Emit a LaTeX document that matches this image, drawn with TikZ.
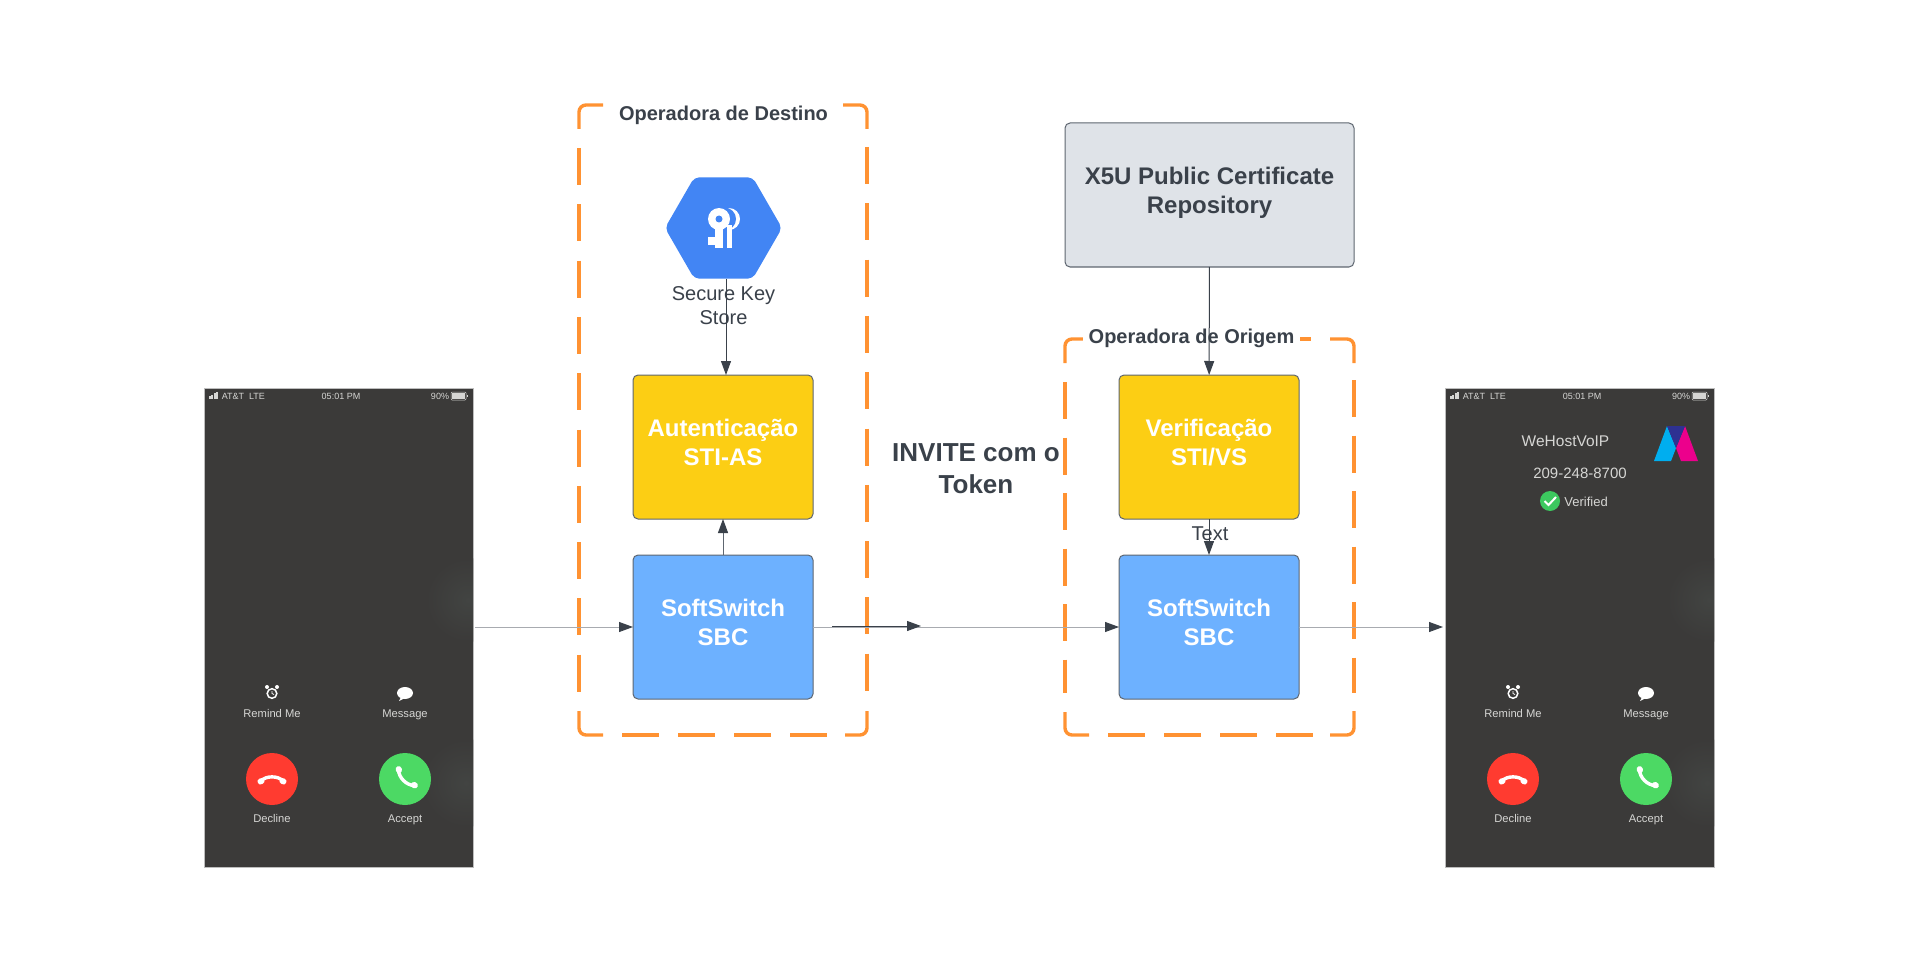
\documentclass[tikz,border=0pt]{standalone}
\usepackage{fontspec}
\setmainfont{Liberation Sans}
\usetikzlibrary{
  arrows.meta,
  positioning,
  shapes.geometric
}
\definecolor{ink}{HTML}{3A414A}
\definecolor{edge}{HTML}{5E6670}
\definecolor{faint}{HTML}{A8ABB0}
\definecolor{orangeline}{HTML}{FF9232}
\definecolor{yellowbox}{HTML}{FCCE14}
\definecolor{bluebox}{HTML}{6DB1FF}
\definecolor{greybox}{HTML}{DFE3E8}
\definecolor{keyblue}{HTML}{4285F4}
\definecolor{keyshade}{HTML}{3B78DE}
\definecolor{phonebg}{HTML}{3B3A39}
\definecolor{phoneglow}{HTML}{424442}
\definecolor{phoneedge}{HTML}{BDBDBD}
\definecolor{phonetext}{HTML}{D6D6D4}
\definecolor{declinered}{HTML}{FF3B30}
\definecolor{acceptgreen}{HTML}{4CD964}
\definecolor{checkgreen}{HTML}{3CC85F}
\definecolor{logocyan}{HTML}{00AEEF}
\definecolor{logopink}{HTML}{EC008C}
\definecolor{logopurple}{HTML}{2E3192}
\newcommand{\sized}[2]{\fontsize{#1}{#2}\selectfont}
\tikzset{
  flow/.style={
    -{Triangle[length=14pt,width=10pt,color=ink]},
    line width=1pt,
    draw=ink
  },
  flowfaint/.style={
    flow,
    line width=0.9pt,
    draw=faint
  },
  groupline/.style={
    draw=orangeline,
    line width=3.4pt,
    rounded corners=7pt
  },
  groupdash/.style={
    groupline,
    dash pattern=on 37pt off #1
  },
  groupdash/.default=19pt,
  grouplabel/.style={
    fill=white,
    text=ink,
    inner xsep=6pt,
    inner ysep=2pt,
    font=\sized{20}{24}\bfseries
  },
  stagebox/.style={
    draw=edge,
    line width=1pt,
    rounded corners=5pt,
    text=white,
    outer sep=0pt,
    minimum width=180pt,
    minimum height=144pt,
    align=center,
    text depth=9pt,
    font=\sized{24}{29}\bfseries
  },
  authbox/.style={stagebox, fill=yellowbox},
  switchbox/.style={stagebox, fill=bluebox},
  repobox/.style={
    stagebox,
    fill=greybox,
    text=ink,
    minimum width=289pt
  },
  plainlabel/.style={
    text=ink,
    align=center,
    inner sep=0pt,
    font=\sized{20}{24}
  },
  phonebody/.style={
    draw=phoneedge,
    fill=phonebg,
    line width=0.8pt,
    outer sep=0pt,
    minimum width=269pt,
    minimum height=479pt
  },
  phonelabel/.style={
    text=phonetext,
    inner sep=0pt,
    anchor=base,
    font=\sized{11.2}{13}
  },
  statuslabel/.style={
    text=phonetext,
    inner sep=0pt,
    font=\sized{9}{11}
  },
  callbutton/.style={
    circle,
    minimum size=52pt,
    inner sep=0pt
  },
  handset/.pic={
    \draw[white, line width=3.4pt] (-11,2) .. controls (-6,-3.5) and (6,-3.5) .. (11,2);
    \draw[white, line width=6pt, line cap=round] (-11.5,2.5) -- (-10.5,2);
    \draw[white, line width=6pt, line cap=round] (11.5,2.5) -- (10.5,2);
  },
  phonescreen/.pic={
    \node[phonebody, anchor=north west] (-body) at (0,0) {};
    % soft patches at the right edge
    \begin{scope}
      \clip (0,0) rectangle (269,479);
      \shade[inner color=phoneglow, outer color=phonebg] (264,212) circle (42);
      \shade[inner color=phoneglow, outer color=phonebg] (262,395) circle (44);
    \end{scope}
    % status bar
    \foreach \i/\h in {0/3,1/4,2/6,3/7}
      \fill[phonetext] ({5+2.4*\i},{10.5-\h}) rectangle ({6.8+2.4*\i},10.5);
    \node[statuslabel] (-carrier) at (29,8) {AT\&T};
    \node[statuslabel] (-net) at (53,8) {LTE};
    \node[statuslabel] (-time) at (137,8) {05:01 PM};
    \node[statuslabel] (-charge) at (236,8) {90\%};
    \draw[phonetext, line width=0.5pt, rounded corners=1pt] (247,4) rectangle (262,12);
    \fill[phonetext] (248,5) rectangle (261,11);
    \fill[phonetext] (263,7) rectangle (264,9);
    % reminder and message
    \node[phonelabel] (-remind) at (68,329) {Remind Me};
    \node[phonelabel] (-message) at (201,329) {Message};
    \draw[white, line width=1.5pt] (68,305.5) circle (4.8);
    \draw[white, line width=0.7pt] (68,303) -- (68,305.5) -- (70,306.5);
    \fill[white] (63,299) circle (2) (73,299) circle (2);
    \fill[white] (201,305) ellipse (8 and 6);
    \fill[white] (197,309) -- (195,313) -- (201,310) -- cycle;
    % call buttons
    \node[callbutton, fill=declinered] (-decline) at (68,391) {};
    \node[callbutton, fill=acceptgreen] (-accept) at (201,391) {};
    \pic at (68,391) {handset};
    \pic[rotate=135] at (201,391) {handset};
    \node[phonelabel] at (68,434) {Decline};
    \node[phonelabel] at (201,434) {Accept};
  }
}
\begin{document}
\begin{tikzpicture}[x=1pt, y=-1pt]
  \useasboundingbox[fill=white] (0,0) rectangle (1920,960);

  \pic (caller) at (204,388) {phonescreen};
  \pic (callee) at (1445,388) {phonescreen};

  % caller id on the second phone
  \node[text=phonetext, inner sep=0pt, font=\sized{15.5}{19}] (callname) at (1565.5,441) {WeHostVoIP};
  \node[text=phonetext, inner sep=0pt, font=\sized{15}{19}] (callnumber) at (1580,473) {209-248-8700};
  \node[circle, fill=checkgreen, minimum size=20pt, inner sep=0pt] (callcheck) at (1550,501) {};
  \draw[white, line width=2pt] (1544.5,501) -- (1548.5,505) -- (1556,497);
  \node[text=phonetext, inner sep=0pt, font=\sized{13}{15}, right=4pt of callcheck, yshift=-1pt] (callverified) {Verified};
  \fill[logocyan] (1654,461) -- (1667,426) -- (1676,448) -- (1671,461) -- cycle;
  \fill[logopink] (1685,426) -- (1698,461) -- (1681,461) -- (1676,448) -- cycle;
  \fill[logopurple] (1667,426) -- (1685,426) -- (1676,448) -- cycle;

  % dashed frames
  \draw[groupline] (579,129) |- (603,105);
  \draw[groupline] (843,105) -| (867,129);
  \draw[groupline] (579,711) |- (603,735);
  \draw[groupline] (845,735) -| (867,711);
  \draw[groupdash=19.3pt] (579,148) -- (579,693);
  \draw[groupdash=19.3pt] (867,147) -- (867,693);
  \draw[groupdash] (622,735) -- (827,735);
  \draw[groupline] (1065,363) |- (1089,339);
  \draw[groupline] (1330,339) -| (1354,363);
  \draw[groupline] (1065,712) |- (1089,735);
  \draw[groupline] (1330,735) -| (1354,711);
  \draw[groupdash=18.5pt] (1065,382) -- (1065,693);
  \draw[groupdash=18.5pt] (1354,380) -- (1354,693);
  \draw[groupdash] (1108,735) -- (1313,735);
  \draw[groupdash] (1274,339) -- (1311,339);

  \node[authbox] (auth) at (723,447) {Autenticação\\STI-AS};
  \node[switchbox, below=36pt of auth] (sbcdest) {SoftSwitch\\SBC};
  \node[authbox] (verify) at (1209,447) {Verificação\\STI/VS};
  \node[switchbox, below=36pt of verify] (sbcorig) {SoftSwitch\\SBC};
  \node[repobox] (repo) at (1209.5,195) {X5U Public Certificate\\Repository};

  \node[grouplabel] (destlabel) at (723.5,115) {Operadora de Destino};
  \node[grouplabel] (origlabel) at (1191.5,338) {Operadora de Origem};

  \node[regular polygon, regular polygon sides=6, minimum size=117pt, inner sep=0pt,
    rounded corners=5pt, fill=keyblue,
    path picture={
      \fill[keyshade] (733,213) -- (790,262) -- (755,290) -- (742,279) -- (708,247) -- cycle;
    }] (keystore) at (723.5,228) {};
  % two keys
  \fill[white] (729,219) circle (11);
  \fill[keyblue] (724.5,219) circle (11.5);
  \fill[white] (727,225) rectangle (732,248);
  \fill[white] (719,219) circle (11);
  \fill[white] (715,225) rectangle (723,248);
  \fill[white] (708,237) rectangle (716,245);
  \fill[keyblue] (719,219) circle (3.5);
  \node[plainlabel, below=7pt of keystore] (keylabel) {Secure Key\\Store};

  \node[plainlabel, font=\sized{26}{32}\bfseries] (token) at (976,469) {INVITE com o\\Token};

  \coordinate (keyout) at (726,279);
  \coordinate (keyin) at (auth.north -| keyout);
  \coordinate (inviteout) at (832,626);
  \coordinate (invitein) at (921,626);

  \draw[flow] (keyout) -- (keyin);
  \draw[flow, draw=edge] (sbcdest) -- (auth);
  \draw[flow] (repo) -- (verify);
  \draw[flow] (verify) -- node[plainlabel, font=\sized{20}{24}, pos=0.42, xshift=1pt] {Text} (sbcorig);
  \draw[flowfaint, shorten <=2pt] (caller-body.east |- sbcdest) -- (sbcdest);
  \draw[flowfaint] (sbcdest) -- (sbcorig);
  \draw[flowfaint, shorten >=2pt] (sbcorig) -- (callee-body.west |- sbcorig);
  \draw[flow] (inviteout) -- (invitein);
\end{tikzpicture}
\end{document}
